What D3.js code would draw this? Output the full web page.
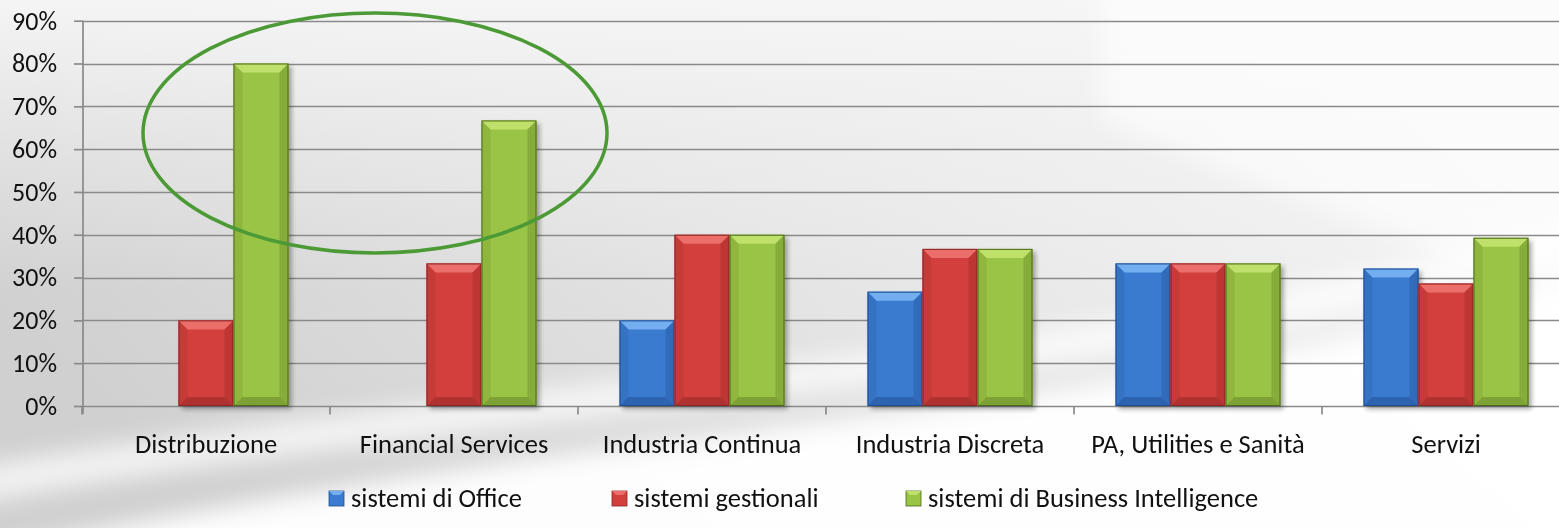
<!DOCTYPE html>
<html lang="it">
<head>
<meta charset="utf-8">
<title>Sistemi per settore</title>
<script src="https://d3js.org/d3.v7.min.js"></script>
<style>
  html, body { margin: 0; padding: 0; }
  body { width: 1559px; height: 528px; overflow: hidden; }
  svg, svg text, .axis { font-family: Carlito, Lato, "DejaVu Sans", sans-serif; }
  .axis .domain { display: none; }
  .axis text { fill: #111; }
</style>
</head>
<body>
<div id="chart"></div>
<script>

var categories = ["Distribuzione", "Financial Services", "Industria Continua", "Industria Discreta", "PA, Utilities e Sanità", "Servizi"];
var office     = [null,  null,  0.200, 0.267, 0.333, 0.321];
var gestionali = [0.200, 0.333, 0.400, 0.367, 0.333, 0.286];
var bi         = [0.800, 0.667, 0.400, 0.367, 0.333, 0.393];
var seriesNames = ["sistemi di Office", "sistemi gestionali", "sistemi di Business Intelligence"];
var yTicks = [0, 0.1, 0.2, 0.3, 0.4, 0.5, 0.6, 0.7, 0.8, 0.9];

var width = 1559, height = 528;

// colours per series: face, light bevel, dark bevel, outline
var pal = [
  { face: "#3a7bd0", light: "#72aef0", dark: "#2a5ea8", line: "#1f4f8f" },
  { face: "#d33f3c", light: "#ec6e6b", dark: "#a82f2d", line: "#8a2523" },
  { face: "#9ac446", light: "#bfe06a", dark: "#76992f", line: "#4d6a1c" }
];

var svg = d3.select("#chart").append("svg")
    .attr("width", width)
    .attr("height", height);

var defs = svg.append("defs");

//------------------------------------------------------------------
// background
var bg = defs.append("linearGradient").attr("id", "bg")
    .attr("x1", 0).attr("y1", 0.6).attr("x2", 1).attr("y2", 0.2);
bg.append("stop").attr("offset", 0).attr("stop-color", "#d0d0d0");
bg.append("stop").attr("offset", 0.45).attr("stop-color", "#e4e4e4");
bg.append("stop").attr("offset", 1).attr("stop-color", "#f8f8f8");

var topFade = defs.append("linearGradient").attr("id", "topFade")
    .attr("x1", 0).attr("y1", 0).attr("x2", 0).attr("y2", 1);
topFade.append("stop").attr("offset", 0).attr("stop-color", "#f6f6f6").attr("stop-opacity", 0.95);
topFade.append("stop").attr("offset", 0.3).attr("stop-color", "#f2f2f2").attr("stop-opacity", 0.4);
topFade.append("stop").attr("offset", 0.55).attr("stop-color", "#f2f2f2").attr("stop-opacity", 0);

defs.append("filter").attr("id", "soft")
    .attr("x", "-20%").attr("y", "-50%").attr("width", "140%").attr("height", "200%")
  .append("feGaussianBlur").attr("stdDeviation", 12);

defs.append("filter").attr("id", "shadow")
    .attr("x", "-20%").attr("y", "-20%").attr("width", "140%").attr("height", "140%")
  .append("feGaussianBlur").attr("stdDeviation", 2.5);

svg.append("rect").attr("width", width).attr("height", height).attr("fill", "url(#bg)");
svg.append("rect").attr("width", width).attr("height", height).attr("fill", "url(#topFade)");

// white swoosh from lower left up to the right
var sw = svg.append("g").attr("filter", "url(#soft)");
sw.append("path")
    .attr("d", "M-40,560 C300,480 700,440 1000,400 C1250,365 1450,320 1600,270 L1600,560 Z")
    .attr("fill", "#ffffff").attr("opacity", 0.95);
sw.append("path")
    .attr("d", "M-40,470 C250,420 600,385 900,350 C1150,320 1400,270 1600,215 L1600,250 C1400,305 1150,355 900,380 C600,415 250,455 -40,505 Z")
    .attr("fill", "#ffffff").attr("opacity", 0.75);
sw.append("path")
    .attr("d", "M1100,-20 L1600,-20 L1600,300 C1450,260 1300,200 1100,120 Z")
    .attr("fill", "#ffffff").attr("opacity", 0.6);

//------------------------------------------------------------------
// scales
var x0 = d3.scaleBand()
    .domain(categories)
    .range([82, 1570])
    .padding(0);

var x1 = d3.scaleBand()
    .domain(d3.range(3))
    .range([0, x0.bandwidth()])
    .paddingInner(0)
    .paddingOuter(0.755);

var y = d3.scaleLinear()
    .domain([0, 0.9])
    .range([406, 20.7]);

//------------------------------------------------------------------
// gridlines
svg.append("g")
  .selectAll("line")
  .data(yTicks)
  .enter().append("line")
    .attr("x1", 83)
    .attr("x2", 1570)
    .attr("y1", function(d) { return Math.round(y(d)) + 0.5; })
    .attr("y2", function(d) { return Math.round(y(d)) + 0.5; })
    .attr("stroke", "#8a8a8a")
    .attr("stroke-width", 1.7);

// y axis
var yAxis = svg.append("g")
    .attr("class", "axis")
    .attr("transform", "translate(83,0)")
    .call(d3.axisLeft(y).tickValues(yTicks).tickSize(9).tickPadding(17).tickFormat(d3.format(".0%")));
yAxis.attr("font-family", null).attr("font-size", 26);
yAxis.selectAll(".tick line").attr("stroke", "#8a8a8a").attr("stroke-width", 1.7);
yAxis.append("line")
    .attr("x1", 0).attr("x2", 0)
    .attr("y1", y(0.9)).attr("y2", y(0) + 8)
    .attr("stroke", "#8a8a8a").attr("stroke-width", 1.7);

// x axis
var xAxis = svg.append("g")
    .attr("class", "axis")
    .attr("transform", "translate(0," + (Math.round(y(0)) + 0.5) + ")")
    .call(d3.axisBottom(x0).tickSize(0).tickPadding(37));
xAxis.attr("font-family", null).attr("font-size", 26.5);
xAxis.selectAll(".tick text").attr("dy", "0.35em");
xAxis.selectAll(".cattick")
  .data(x0.domain().concat(["end"]))
  .enter().append("line")
    .attr("class", "cattick")
    .attr("x1", function(d, i) { return 82 + i * x0.step(); })
    .attr("x2", function(d, i) { return 82 + i * x0.step(); })
    .attr("y1", 0).attr("y2", 8)
    .attr("stroke", "#8a8a8a").attr("stroke-width", 1.7);

//------------------------------------------------------------------
// bars
var rows = [];
categories.forEach(function(c, i) {
  [office, gestionali, bi].forEach(function(s, k) {
    if (s[i] != null) rows.push({ cat: c, k: k, v: s[i] });
  });
});

var bars = svg.append("g")
  .selectAll("g")
  .data(rows)
  .enter().append("g")
    .attr("transform", function(d) { return "translate(" + (x0(d.cat) + x1(d.k)) + "," + y(d.v) + ")"; });

var bw = x1.bandwidth();
var bev = 9;

bars.append("rect")
    .attr("x", 3).attr("y", 3)
    .attr("width", bw)
    .attr("height", function(d) { return y(0) - y(d.v); })
    .attr("fill", "#000").attr("opacity", 0.35)
    .attr("filter", "url(#shadow)");

bars.append("rect")
    .attr("width", bw)
    .attr("height", function(d) { return y(0) - y(d.v); })
    .attr("fill", function(d) { return pal[d.k].face; });

// bevel: top light, bottom dark, sides
bars.append("path")
    .attr("d", "M0,0 L" + bw + ",0 L" + (bw - bev) + "," + bev + " L" + bev + "," + bev + " Z")
    .attr("fill", function(d) { return pal[d.k].light; });
bars.append("path")
    .attr("d", function(d) {
      var h = y(0) - y(d.v);
      return "M0," + h + " L" + bw + "," + h + " L" + (bw - bev) + "," + (h - bev) + " L" + bev + "," + (h - bev) + " Z";
    })
    .attr("fill", function(d) { return pal[d.k].dark; })
    .attr("opacity", 0.8);
bars.append("path")
    .attr("d", function(d) {
      var h = y(0) - y(d.v);
      return "M0,0 L" + bev + "," + bev + " L" + bev + "," + (h - bev) + " L0," + h + " Z";
    })
    .attr("fill", function(d) { return pal[d.k].dark; })
    .attr("opacity", 0.3);
bars.append("path")
    .attr("d", function(d) {
      var h = y(0) - y(d.v);
      return "M" + bw + ",0 L" + (bw - bev) + "," + bev + " L" + (bw - bev) + "," + (h - bev) + " L" + bw + "," + h + " Z";
    })
    .attr("fill", function(d) { return pal[d.k].dark; })
    .attr("opacity", 0.55);

bars.append("rect")
    .attr("x", 0.5).attr("y", 0.5)
    .attr("width", bw - 1)
    .attr("height", function(d) { return y(0) - y(d.v) - 1; })
    .attr("fill", "none")
    .attr("stroke", function(d) { return pal[d.k].line; })
    .attr("stroke-width", 1);

//------------------------------------------------------------------
// highlight ellipse
svg.append("ellipse")
    .attr("cx", 375).attr("cy", 133)
    .attr("rx", 232).attr("ry", 120)
    .attr("fill", "none")
    .attr("stroke", "#4c9a36")
    .attr("stroke-width", 3.5);

//------------------------------------------------------------------
// legend
var legendX = [329, 612, 906];
var legend = svg.append("g")
  .selectAll("g")
  .data(seriesNames)
  .enter().append("g")
    .attr("transform", function(d, i) { return "translate(" + legendX[i] + ",498)"; });

legend.append("rect")
    .attr("x", 0).attr("y", -7)
    .attr("width", 15).attr("height", 15)
    .attr("fill", function(d, i) { return pal[i].face; })
    .attr("stroke", function(d, i) { return pal[i].line; })
    .attr("stroke-width", 0.8);
legend.append("path")
    .attr("d", "M0,-7 L15,-7 L11,-3 L4,-3 Z")
    .attr("fill", function(d, i) { return pal[i].light; });

legend.append("text")
    .attr("x", 22)
    .attr("dy", "0.35em")
    .attr("fill", "#111")
    .attr("font-size", 26.5)
    .text(function(d) { return d; });

</script>
</body>
</html>
